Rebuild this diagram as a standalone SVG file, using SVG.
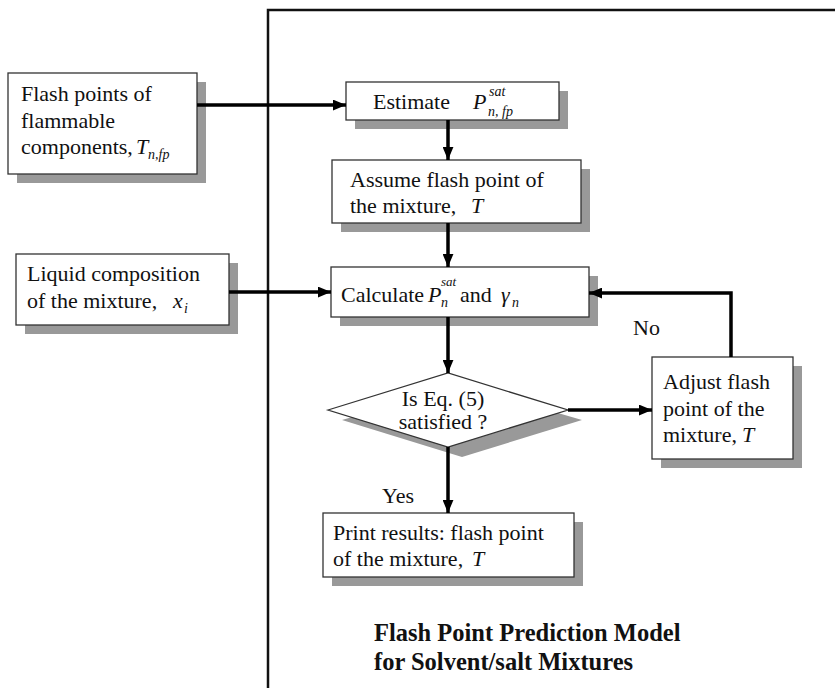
<svg xmlns="http://www.w3.org/2000/svg" width="835" height="688" viewBox="0 0 835 688">
<style>
text{font-family:"Liberation Serif","Times New Roman",serif;font-size:22px;fill:#111}
.it{font-style:italic}
.sm{font-size:14px;font-style:italic}
.box{fill:#fff;stroke:#333;stroke-width:1.3}
.sh{fill:#999;stroke:none}
.ln{fill:none;stroke:#000;stroke-width:3.5}
.title{font-weight:bold;font-size:24.5px}
</style>
<defs>
<marker id="arr" viewBox="0 0 12 10" refX="12" refY="5" markerWidth="13" markerHeight="11" orient="auto" markerUnits="userSpaceOnUse">
<path d="M0,0 L12,5 L0,10 z" fill="#000"/>
</marker>
</defs>
<rect x="0" y="0" width="835" height="688" fill="#fff"/>
<path id="frame" d="M268,688 V10 H835" fill="none" stroke="#111" stroke-width="2.5"/>

<g id="n-flash-input">
<rect class="sh" x="17" y="82" width="189" height="101"/>
<rect class="box" x="8" y="73" width="189" height="101"/>
<text x="21" y="101">Flash points of</text>
<text x="21" y="128">flammable</text>
<text x="21" y="154">components,</text>
<text class="it" x="136" y="154">T</text>
<text class="sm" x="148" y="159">n,fp</text>
</g>

<g id="n-estimate">
<rect class="sh" x="355" y="91" width="213" height="38"/>
<rect class="box" x="346" y="82" width="213" height="38"/>
<text x="373" y="109">Estimate</text>
<text class="it" x="473" y="109">P</text>
<text class="sm" x="489" y="96">sat</text>
<text class="sm" x="488" y="116">n, fp</text>
</g>

<g id="n-assume">
<rect class="sh" x="341" y="169" width="249" height="63"/>
<rect class="box" x="332" y="160" width="249" height="63"/>
<text x="350" y="187">Assume flash point of</text>
<text x="350" y="213">the mixture,</text>
<text class="it" x="471" y="213">T</text>
</g>

<g id="n-liquid">
<rect class="sh" x="25" y="263" width="213" height="71"/>
<rect class="box" x="16" y="254" width="213" height="71"/>
<text x="27" y="281">Liquid composition</text>
<text x="27" y="308">of the mixture,</text>
<text class="it" x="173" y="308">x</text>
<text class="sm" x="184" y="313">i</text>
</g>

<g id="n-calculate">
<rect class="sh" x="340" y="276" width="258" height="50"/>
<rect class="box" x="331" y="267" width="258" height="50"/>
<text x="341" y="302">Calculate</text>
<text class="it" x="428" y="302">P</text>
<text class="sm" x="441" y="286" style="font-size:13px">sat</text>
<text class="sm" x="441" y="307">n</text>
<text x="460" y="302">and</text>
<text class="it" x="501" y="302">γ</text>
<text class="sm" x="512" y="307">n</text>
</g>

<g id="n-decision">
<polygon class="sh" points="342,420 462,385 582,420 462,457"/>
<polygon class="box" points="328,410 448,373 568,410 448,447"/>
<text x="443" y="406" text-anchor="middle">Is Eq. (5)</text>
<text x="443" y="429" text-anchor="middle">satisfied ?</text>
</g>

<g id="n-adjust">
<rect class="sh" x="661" y="366" width="141" height="102"/>
<rect class="box" x="652" y="357" width="141" height="102"/>
<text x="663" y="389">Adjust flash</text>
<text x="663" y="416">point of the</text>
<text x="663" y="442">mixture,</text>
<text class="it" x="742" y="442">T</text>
</g>

<g id="n-print">
<rect class="sh" x="332" y="522" width="251" height="64"/>
<rect class="box" x="323" y="513" width="251" height="64"/>
<text x="333" y="540">Print results: flash point</text>
<text x="333" y="566">of the mixture,</text>
<text class="it" x="472" y="566">T</text>
</g>

<g id="connectors">
<line class="ln" x1="197" y1="105" x2="346" y2="105" marker-end="url(#arr)"/>
<line class="ln" x1="448" y1="120" x2="448" y2="160" marker-end="url(#arr)"/>
<line class="ln" x1="448" y1="223" x2="448" y2="267" marker-end="url(#arr)"/>
<line class="ln" x1="229" y1="292" x2="331" y2="292" marker-end="url(#arr)"/>
<line class="ln" x1="448" y1="317" x2="448" y2="373" marker-end="url(#arr)"/>
<line class="ln" x1="568" y1="410" x2="652" y2="410" marker-end="url(#arr)"/>
<polyline class="ln" points="731,357 731,293 589,293" marker-end="url(#arr)"/>
<line class="ln" x1="448" y1="447" x2="448" y2="513" marker-end="url(#arr)"/>
<text x="633" y="335">No</text>
<text x="382" y="503">Yes</text>
</g>

<g id="title">
<text class="title" x="374" y="641">Flash Point Prediction Model</text>
<text class="title" x="374" y="670">for Solvent/salt Mixtures</text>
</g>
</svg>
